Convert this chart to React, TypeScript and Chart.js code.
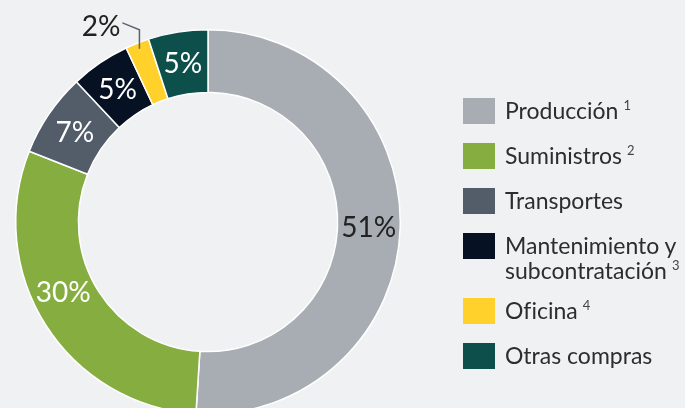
import React, { useEffect, useRef } from "react";
import { Chart, registerables } from "chart.js";

Chart.register(...registerables);

const categories = ["Producción", "Suministros", "Transportes", "Mantenimiento y subcontratación", "Oficina", "Otras compras"];
const legendLines = [["Producción"], ["Suministros"], ["Transportes"], ["Mantenimiento y", "subcontratación"], ["Oficina"], ["Otras compras"]];
const footnotes = ["1", "2", "", "3", "4", ""];
const values = [51, 30, 7, 5, 2, 5];
const valueLabels = ["51%", "30%", "7%", "5%", "2%", "5%"];
const colors = ["#a7adb3", "#86ad3f", "#535d69", "#061224", "#ffd12a", "#0d4f4a"];
const labelColors = ["#222222", "#ffffff", "#ffffff", "#ffffff", "#222222", "#ffffff"];

const BG = "#f0f1f3";
const LABEL_FONT = "28px Lato, 'Open Sans', sans-serif";

const labelPlugin = {
  id: "sliceLabels",
  afterDatasetsDraw(chart: any) {
    const ctx = chart.ctx;
    const meta = chart.getDatasetMeta(0);
    const fracs = [0.5, 0.56, 0.5, 0.5, 0.5, 0.5];
    meta.data.forEach((arc: any, i: number) => {
      const p = arc.getProps(["x", "y", "startAngle", "endAngle", "innerRadius", "outerRadius"], true);
      const a = p.startAngle + fracs[i] * (p.endAngle - p.startAngle);
      ctx.save();
      ctx.font = LABEL_FONT;
      ctx.fillStyle = labelColors[i];
      ctx.textBaseline = "middle";
      if (i === 4) {
        const r0 = p.outerRadius - 6;
        const x0 = p.x + r0 * Math.cos(a);
        const y0 = p.y + r0 * Math.sin(a);
        const x1 = x0;
        const y1 = y0 - 19;
        const x2 = x1 - 17;
        const y2 = y1 - 7;
        ctx.strokeStyle = "#5a6470";
        ctx.lineWidth = 1.5;
        ctx.beginPath();
        ctx.moveTo(x0, y0);
        ctx.lineTo(x1, y1);
        ctx.lineTo(x2, y2);
        ctx.stroke();
        ctx.textAlign = "right";
        ctx.fillText(valueLabels[i], x2 - 2, y2 + 4);
      } else {
        const r = (p.innerRadius + p.outerRadius) / 2;
        ctx.textAlign = "center";
        ctx.fillText(valueLabels[i], p.x + r * Math.cos(a), p.y + r * Math.sin(a) + 1);
      }
      ctx.restore();
    });
  },
};

export default function App() {
  const ref = useRef<HTMLCanvasElement>(null);
  useEffect(() => {
    if (!ref.current) return;
    const chart = new Chart(ref.current, {
      type: "doughnut",
      data: {
        labels: categories,
        datasets: [
          {
            data: values,
            backgroundColor: colors,
            borderColor: "#ffffff",
            borderWidth: 1.5,
          },
        ],
      },
      options: {
        responsive: false,
        animation: false,
        devicePixelRatio: 1,
        cutout: "67.4%",
        layout: { padding: { left: 15, right: 284, top: 29, bottom: 35 } },
        plugins: { legend: { display: false }, tooltip: { enabled: false } },
      },
      plugins: [labelPlugin],
    });
    return () => chart.destroy();
  }, []);

  return (
    <div
      style={{
        position: "fixed",
        left: 0,
        top: 0,
        width: 685,
        height: 408,
        overflow: "hidden",
        background: BG,
        fontFamily: "Lato, 'Open Sans', sans-serif",
        fontVariantLigatures: "none",
      }}
    >
      <canvas ref={ref} width={685} height={450} style={{ position: "absolute", left: 0, top: 0 }} />
      {categories.map((c, i) => {
        const top = 98 + 45 * i + (i >= 4 ? 20 : 0);
        return (
          <div key={c} style={{ position: "absolute", left: 463, top, display: "flex" }}>
            <div style={{ width: 32, height: 26, background: colors[i], flex: "none" }} />
            <div style={{ marginLeft: 10, marginTop: 0, fontSize: 23, lineHeight: "25px", color: "#2d2d2d" }}>
              {legendLines[i].map((l, j) => (
                <div key={j} style={{ whiteSpace: "nowrap" }}>
                  {l}
                  {j === legendLines[i].length - 1 && footnotes[i] ? (
                    <span style={{ fontSize: 13, position: "relative", top: -9, marginLeft: 5, color: "#444" }}>
                      {footnotes[i]}
                    </span>
                  ) : null}
                </div>
              ))}
            </div>
          </div>
        );
      })}
    </div>
  );
}
